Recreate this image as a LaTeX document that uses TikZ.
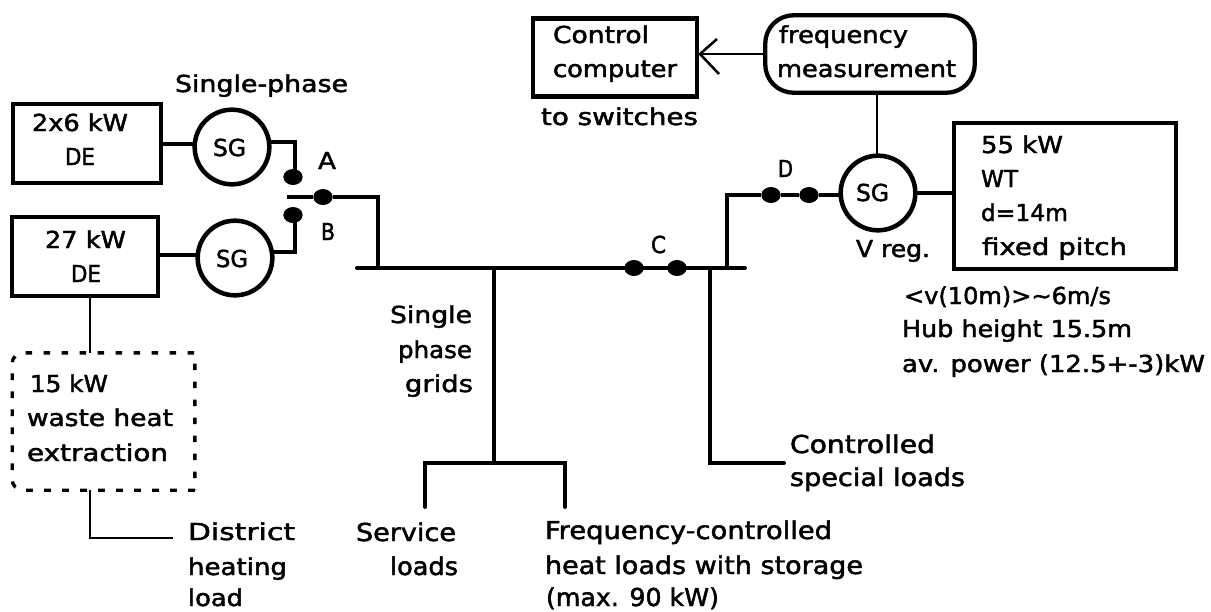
\documentclass[tikz,border=0pt]{standalone}
\usepackage{fontspec}
\usepackage{graphicx}
\usetikzlibrary{shapes.geometric}
\setmainfont[FakeBold=1.8]{DejaVu Sans}
\newcommand{\tw}[2]{\resizebox{#1\dimexpr0.75pt\relax}{\height}{#2}}
\begin{document}
\begin{tikzpicture}[x=0.75pt,y=-0.75pt,
  lbl/.style={anchor=base west,inner sep=0pt,outer sep=0pt,font=\fontsize{17.5}{20}\selectfont,text=black},
  lblb/.style={lbl,font=\fontsize{18.5}{20}\selectfont},
  thick box/.style={draw=black,line width=3.2pt,inner sep=0pt,outer sep=0pt},
  gen/.style={circle,draw=black,line width=3.4pt,inner sep=0pt,outer sep=0pt,minimum size=56pt},
  wire/.style={draw=black,line width=3pt},
  drop/.style={wire,line cap=round},
  thin wire/.style={draw=black,line width=1.9pt},
  contact/.style={ellipse,fill=black,inner sep=0pt,outer sep=0pt,minimum width=14.5pt,minimum height=12pt}
]
\useasboundingbox (0,0) rectangle (1211,611);
% boxes
\node[thick box,minimum width=111pt,minimum height=59pt] (de1) at (87,143.5) {};
\node[thick box,minimum width=110pt,minimum height=59pt] (de2) at (85,256.5) {};
\node[thick box,line width=3.7pt,minimum width=123pt,minimum height=59pt] (ctrl) at (615,57.5) {};
\node[draw=black,line width=3.2pt,rounded corners=21pt,inner sep=0pt,outer sep=0pt,minimum width=157pt,minimum height=58pt] (freq) at (870,54) {};
\node[thick box,minimum width=166.5pt,minimum height=109.5pt] (wt) at (1065,196) {};
\node[gen] (sg1) at (232,147) {};
\node[gen] (sg2) at (235,258) {};
\node[gen] (sg3) at (878,193) {};
\node[inner sep=0pt,outer sep=0pt,minimum width=137pt,minimum height=103pt] (waste) at (103.5,421.5) {};
\draw[draw=black,line width=2.5pt,dash pattern=on 5pt off 8.5pt] (waste.south east) [rounded corners=8pt] -- (waste.south west) -- (waste.north west) [sharp corners] -- (waste.north east) -- cycle;
% switch points
\node[contact] (ca) at (293,177) {};
\node[contact] (cb) at (293,215) {};
\node[contact] (ab) at (323,197) {};
\node[contact] (c1) at (634,268) {};
\node[contact] (c2) at (677,268) {};
\node[contact] (d1) at (771,195) {};
\node[contact] (d2) at (809,195) {};
% free ends
\coordinate (abl) at (287,197);
\coordinate (abr) at (378,197);
\coordinate (busl) at (357,268);
\coordinate (busr) at (745,268);
\coordinate (busj) at (378,268);
\coordinate (rise) at (727,268);
\coordinate (riset) at (727,195);
\coordinate (grid) at (494,268);
\coordinate (gridb) at (494,463);
\coordinate (gl) at (425,463);
\coordinate (gr) at (565,463);
\coordinate (gle) at (425,507);
\coordinate (gre) at (565,507);
\coordinate (spt) at (710,268);
\coordinate (spb) at (710,463);
\coordinate (spe) at (784,463);
\coordinate (ht1) at (90,490);
\coordinate (ht2) at (90,538);
\coordinate (ht3) at (173,538);
\coordinate (wa) at (90,353);
\coordinate (de2b) at (90,298);
\coordinate (sgf) at (877,95);
\coordinate (sgft) at (877,155);
\coordinate (tip) at (700,54);
\coordinate (barba) at (717,39);
\coordinate (barbb) at (719,74);
\coordinate (fl) at (763,54);
% wires
\draw[wire] (de1.east |- 0,144) -- (sg1.west |- 0,144);
\draw[wire] (de2.east |- 0,255) -- (sg2.west |- 0,255);
\draw[wire] (sg1.east |- 0,142) -- (295,142) -- (295,177);
\draw[wire] (sg2.east |- 0,252) -- (295,252) -- (295,215);
\draw[wire] (abl) -- (ab) -- (abr) -- (busj);
\draw[drop] (busl) -- (c1) -- (c2) -- (busr);
\draw[wire] (rise) -- (riset) -- (d1) -- (d2) -- (sg3.west |- d2);
\draw[wire] (sg3) ++(39,0) -- (wt.west |- sg3);
\draw[wire] (grid) -- (gridb);
\draw[drop] (gle) -- (gl) -- (gr) -- (gre);
\draw[drop] (spt) -- (spb) -- (spe);
\draw[thin wire] (de2b) -- (wa);
\draw[thin wire] (ht1) -- (ht2) -- (ht3);
\draw[thin wire] (sgf) -- (sgft);
\draw[thin wire] (fl) -- (tip);
\draw[thin wire] (barba) -- (tip) -- (barbb);
% labels
\node[lbl] (t1) at (175,92) {\tw{173}{Single-phase}};
\node[lbl] (t2) at (32,131) {\tw{96}{2x6 kW}};
\node[lbl] (t3) at (65,165) {\tw{30}{DE}};
\node[lbl] (t4) at (213,156) {\tw{33}{SG}};
\node[lbl] (t5) at (318,169) {\tw{18}{A}};
\node[lbl] (t6) at (321,240) {\tw{14}{B}};
\node[lbl] (t7) at (45,248) {\tw{81}{27 kW}};
\node[lbl] (t8) at (71,282) {\tw{30}{DE}};
\node[lbl] (t9) at (216,267) {\tw{32}{SG}};
\node[lbl] (t10) at (553,43) {\tw{96}{Control}};
\node[lbl] (t11) at (553,77) {\tw{124}{computer}};
\node[lbl] (t12) at (541,125) {\tw{157}{to switches}};
\node[lbl] (t13) at (779,43) {\tw{129}{frequency}};
\node[lbl] (t14) at (777,77) {\tw{179}{measurement}};
\node[lbl] (t15) at (778,177) {\tw{15}{D}};
\node[lbl] (t16) at (651,253) {\tw{15}{C}};
\node[lbl] (t17) at (856,201) {\tw{33}{SG}};
\node[lbl] (t18) at (856,257) {\tw{74}{V reg.}};
\node[lbl] (t19) at (981,153) {\tw{82}{55 kW}};
\node[lbl] (t20) at (981,187) {\tw{37}{WT}};
\node[lbl] (t21) at (981,221) {\tw{87}{d=14m}};
\node[lbl] (t22) at (982,255) {\tw{145}{fixed pitch}};
\node[lbl] (t23) at (904,304) {\tw{207}{<v(10m)>\textasciitilde 6m/s}};
\node[lbl] (t24) at (902,337) {\tw{230}{Hub height 15.5m}};
\node[lbl] (t25) at (902,372) {\tw{303}{av. power (12.5+-3)kW}};
\node[lbl] (t26) at (390,323) {\tw{82}{Single}};
\node[lbl] (t27) at (398,358) {\tw{74}{phase}};
\node[lbl] (t28) at (405,392) {\tw{68}{grids}};
\node[lbl] (t29) at (30,392) {\tw{78}{15 kW}};
\node[lbl] (t30) at (27,426) {\tw{146}{waste heat}};
\node[lbl] (t31) at (27,461) {\tw{141}{extraction}};
\node[lbl] (t32) at (188,540) {\tw{107}{District}};
\node[lbl] (t33) at (188,575) {\tw{99}{heating}};
\node[lbl] (t34) at (188,606) {\tw{55}{load}};
\node[lblb] (t35) at (356,541) {\tw{100}{Service}};
\node[lblb] (t36) at (390,575) {\tw{68}{loads}};
\node[lblb] (t37) at (545,539) {\tw{287}{Frequency-controlled}};
\node[lblb] (t38) at (545,574) {\tw{318}{heat loads with storage}};
\node[lblb] (t39) at (546,606) {\tw{173}{(max. 90 kW)}};
\node[lblb] (t40) at (790,453) {\tw{145}{Controlled}};
\node[lblb] (t41) at (790,486) {\tw{175}{special loads}};
\end{tikzpicture}
\end{document}
